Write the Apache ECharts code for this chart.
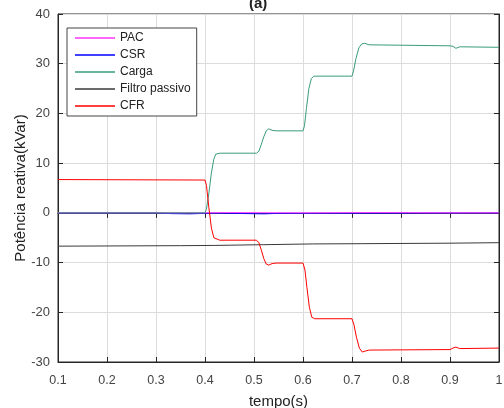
<!DOCTYPE html>
<html>
<head>
<meta charset="utf-8">
<script src="https://cdn.jsdelivr.net/npm/echarts@6/dist/echarts.min.js"></script>
<style>
  html, body { margin: 0; padding: 0; background: #fff; }
  #chart { width: 504px; height: 408px; }
</style>
</head>
<body>
<div id="chart"></div>
<script>
// curvas (tempo em s, potência em kVar)
var pacT = [0.1, 0.4, 0.45, 0.6, 0.75, 0.9, 1.0];
var pacV = [0, 0, 0.05, 0, 0.05, 0, 0];

var csrT = [0.1, 0.3, 0.33, 0.37, 0.4, 0.42, 0.52, 0.55, 1.0];
var csrV = [0, 0, -0.15, -0.2, -0.1, -0.05, -0.2, -0.1, 0];

var cargaT = [0.1, 0.4, 0.403, 0.408, 0.413, 0.418, 0.422, 0.43, 0.505, 0.51, 0.515, 0.52, 0.525, 0.53, 0.537, 0.545,
  0.6, 0.603, 0.607, 0.612, 0.617, 0.622, 0.7, 0.703, 0.708, 0.714, 0.72, 0.726, 0.735, 0.9, 0.906, 0.912, 0.92, 1.0];
var cargaV = [0, 0, 0.8, 4, 8, 10.8, 11.8, 12, 12, 12.4, 13.8, 15.3, 16.5, 16.9, 16.6, 16.5,
  16.5, 17.5, 21, 25, 27, 27.5, 27.5, 28.5, 31, 33.2, 34.0, 34.1, 33.8, 33.6, 33.5, 33.1, 33.4, 33.3];

var filtroT = [0.1, 0.35, 0.42, 0.52, 0.62, 0.72, 0.9, 1.0];
var filtroV = [-6.7, -6.6, -6.55, -6.4, -6.25, -6.2, -6.1, -6.0];

var cfrT = [0.1, 0.4, 0.403, 0.408, 0.413, 0.418, 0.422, 0.43, 0.505, 0.51, 0.515, 0.52, 0.525, 0.53, 0.537, 0.545,
  0.6, 0.604, 0.608, 0.613, 0.618, 0.624, 0.7, 0.704, 0.709, 0.715, 0.721, 0.727, 0.735, 0.9, 0.906, 0.912, 0.92, 1.0];
var cfrV = [6.7, 6.6, 5.5, 1, -3, -5, -5.4, -5.5, -5.5, -6, -7.5, -9.2, -10.3, -10.5, -10.2, -10.1,
  -10.1, -11.5, -15, -19, -21, -21.3, -21.3, -22.5, -25, -27.2, -28.0, -27.8, -27.6, -27.5, -27.2, -27.0, -27.3, -27.2];

var nomes = ['PAC', 'CSR', 'Carga', 'Filtro passivo', 'CFR'];
var cores = ['#ff33ff', '#0000ff', '#3a9c7c', '#3a3a3a', '#ff0000'];

var xTicks = [0.1, 0.2, 0.3, 0.4, 0.5, 0.6, 0.7, 0.8, 0.9, 1];
var yTicks = [-30, -20, -10, 0, 10, 20, 30, 40];

function pares(t, v) {
  return t.map(function (x, i) { return [x, v[i]]; });
}

var chart = echarts.init(document.getElementById('chart'));

var fonte = 'Liberation Sans, Arial, sans-serif';
var eixoCor = '#262626';

function serie(i, t, v, z) {
  return {
    name: nomes[i],
    type: 'line',
    data: pares(t, v),
    showSymbol: false,
    symbol: 'none',
    z: z,
    lineStyle: { color: cores[i], width: 1 },
    itemStyle: { color: cores[i] }
  };
}

var option = {
  animation: false,
  backgroundColor: '#fff',
  title: {
    text: '(a)',
    left: 244,
    top: -9,
    textStyle: { fontFamily: fonte, fontSize: 15, fontWeight: 'bold', color: '#222' }
  },
  grid: {
    left: 58, right: 5, top: 14, bottom: 46,
    containLabel: false, outerBoundsMode: 'none',
    show: true, borderColor: eixoCor, borderWidth: 1
  },
  legend: {
    data: nomes,
    orient: 'vertical',
    left: 67,
    top: 28,
    icon: 'rect',
    itemWidth: 40,
    itemHeight: 1.5,
    itemGap: 5,
    padding: [4, 6, 4, 8],
    borderColor: '#444',
    borderWidth: 1,
    backgroundColor: '#fff',
    textStyle: { fontFamily: fonte, fontSize: 12, color: '#222' }
  },
  xAxis: [{
    type: 'value',
    min: 0.1, max: 1, interval: 0.1,
    name: 'tempo(s)',
    nameLocation: 'middle',
    nameGap: 32,
    nameTextStyle: { fontFamily: fonte, fontSize: 15, color: '#222' },
    axisLine: { show: true, onZero: false, lineStyle: { color: eixoCor } },
    axisTick: { show: true, inside: true, length: 5, lineStyle: { color: eixoCor } },
    axisLabel: {
      fontFamily: fonte, fontSize: 12.5, color: '#444', margin: 12,
      formatter: function (v) { return xTicks.indexOf(Math.round(v * 10) / 10) >= 0 ? String(Math.round(v * 10) / 10) : ''; }
    },
    splitLine: { show: true, lineStyle: { color: '#dcdcdc' } }
  }, {
    type: 'value', position: 'top',
    min: 0.1, max: 1, interval: 0.1,
    axisLine: { show: true, lineStyle: { color: eixoCor } },
    axisTick: { show: true, inside: true, length: 5, lineStyle: { color: eixoCor } },
    axisLabel: { show: false },
    splitLine: { show: false }
  }],
  yAxis: [{
    type: 'value',
    min: -30, max: 40, interval: 10,
    name: 'Potência reativa(kVar)',
    nameLocation: 'middle',
    nameGap: 30,
    nameMoveOverlap: false,
    nameTextStyle: { fontFamily: fonte, fontSize: 15, color: '#222' },
    axisLine: { show: true, onZero: false, lineStyle: { color: eixoCor } },
    axisTick: { show: true, inside: true, length: 5, lineStyle: { color: eixoCor } },
    axisLabel: { fontFamily: fonte, fontSize: 13, color: '#444', margin: 8 },
    splitLine: { show: true, lineStyle: { color: '#dcdcdc' } }
  }, {
    type: 'value', position: 'right',
    min: -30, max: 40, interval: 10,
    axisLine: { show: true, lineStyle: { color: eixoCor } },
    axisTick: { show: true, inside: true, length: 5, lineStyle: { color: eixoCor } },
    axisLabel: { show: false },
    splitLine: { show: false }
  }],
  series: [
    serie(1, csrT, csrV, 2),
    serie(0, pacT, pacV, 3),
    serie(2, cargaT, cargaV, 4),
    serie(3, filtroT, filtroV, 5),
    serie(4, cfrT, cfrV, 6)
  ]
};

chart.setOption(option);
</script>
</body>
</html>
